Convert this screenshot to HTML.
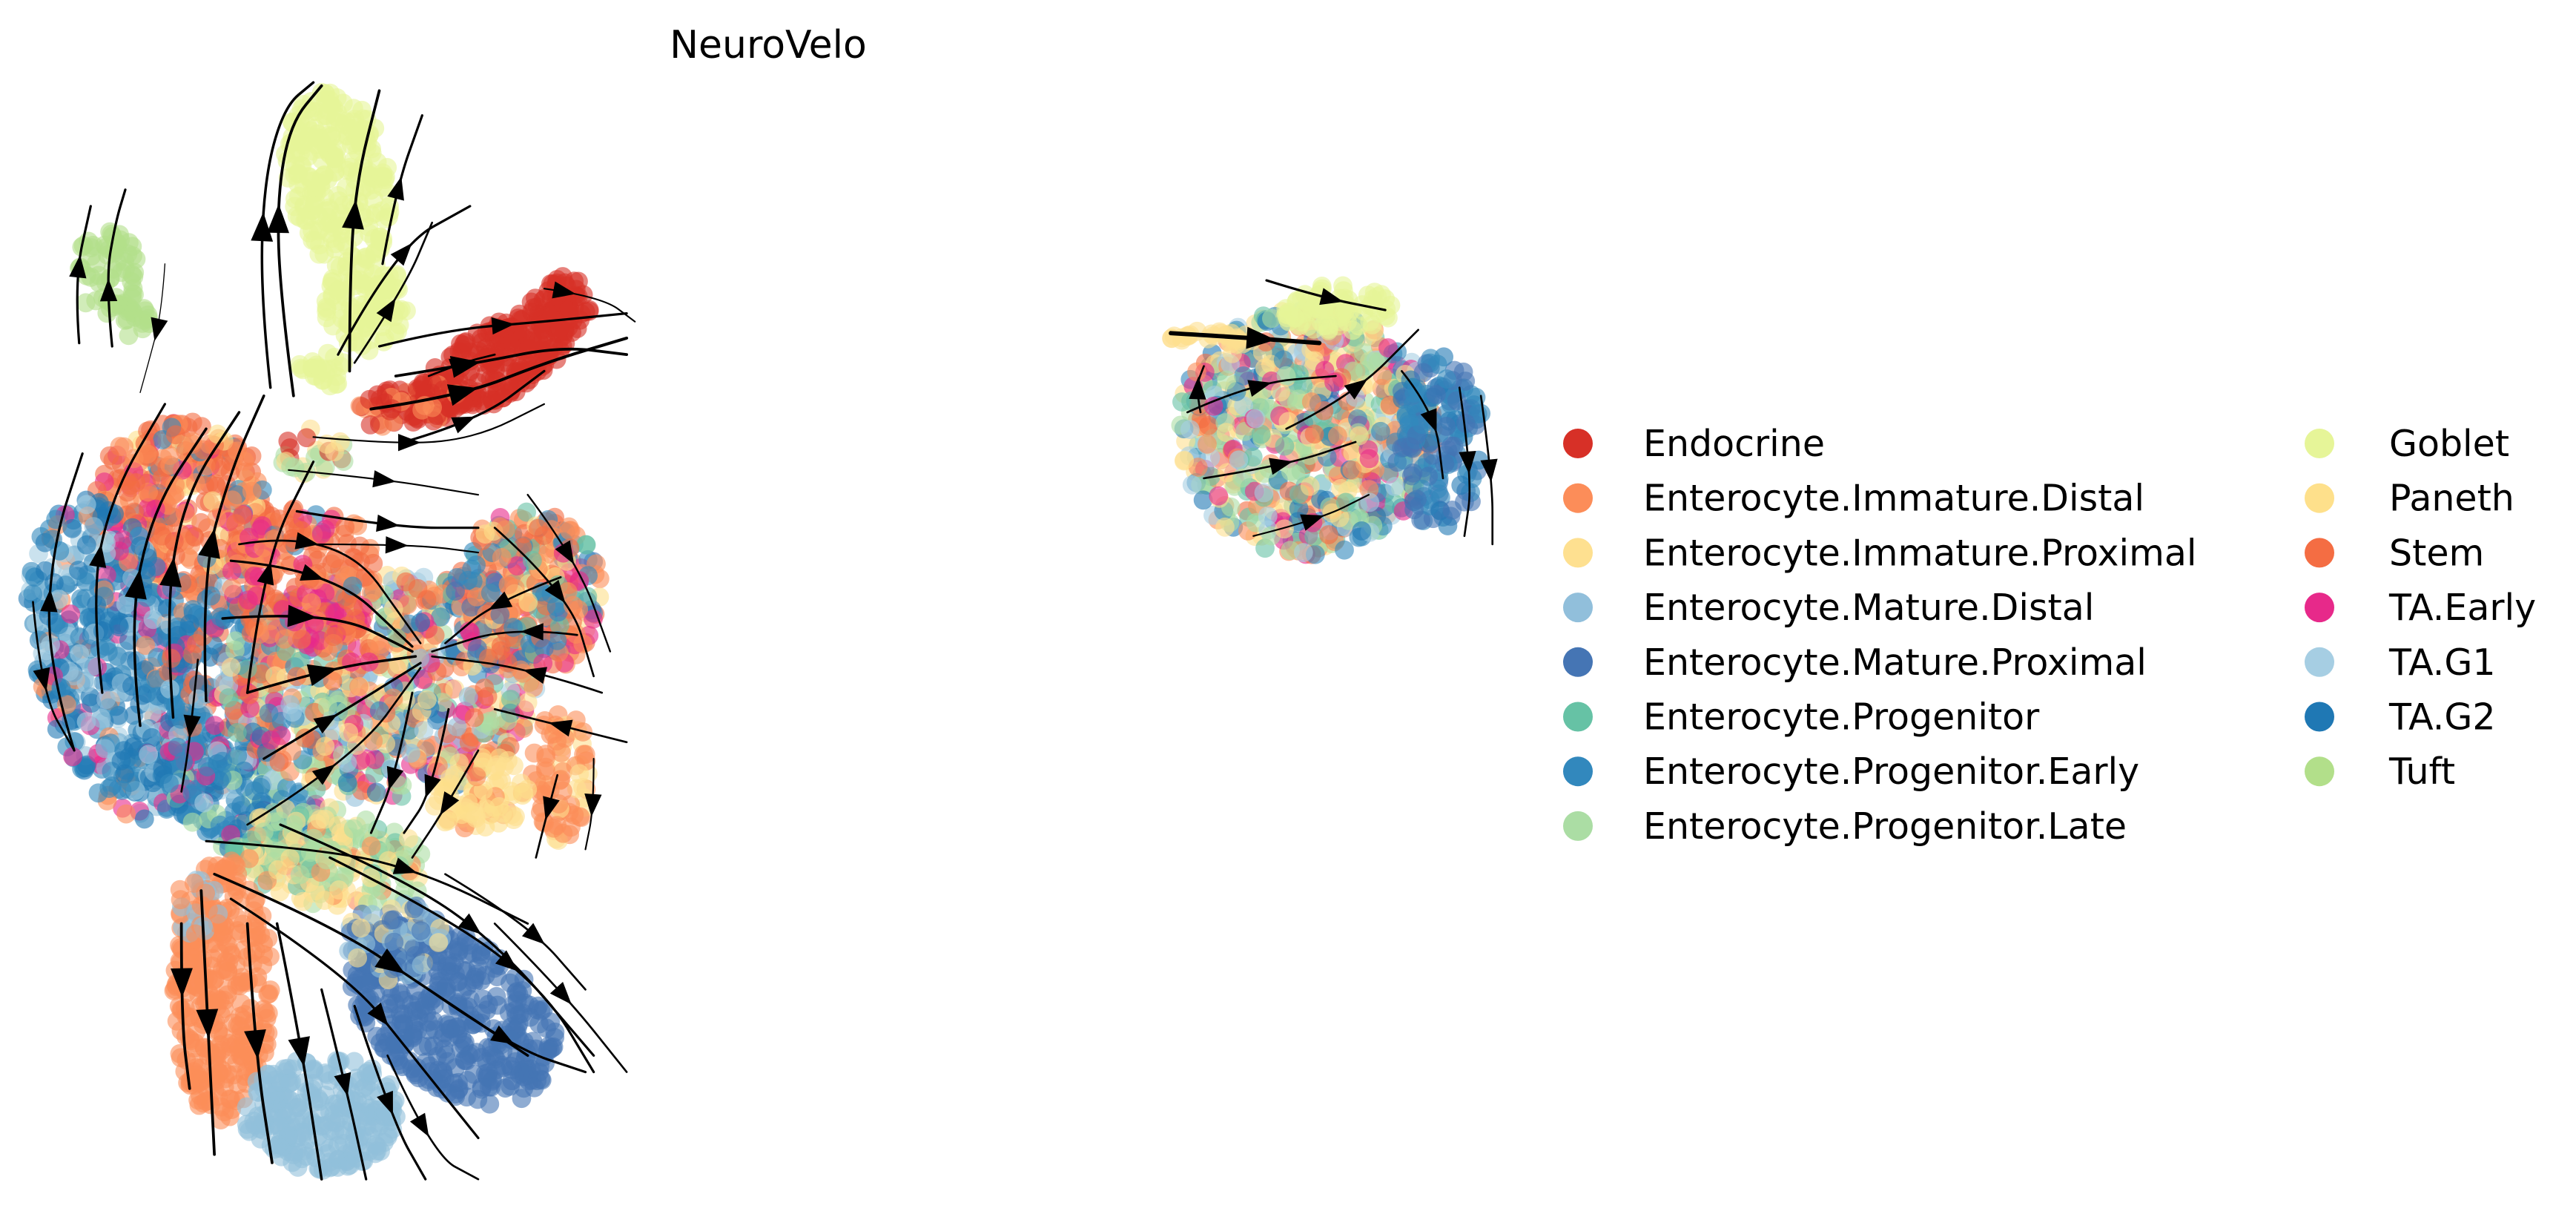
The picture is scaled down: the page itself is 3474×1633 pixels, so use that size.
<!DOCTYPE html>
<html><head><meta charset="utf-8"><style>
html,body{margin:0;padding:0;background:#fff;}
svg{display:block;}
text{font-family:"DejaVu Sans","Liberation Sans",sans-serif;fill:#000;}
</style></head><body>
<svg id="s" width="3474" height="1633" viewBox="0 0 3474 1633" xmlns="http://www.w3.org/2000/svg">
<text x="1036" y="78" font-size="52" text-anchor="middle">NeuroVelo</text>
<g id="plot" transform="scale(2.224)"><g id="dots"></g><g id="lines" fill="none" stroke="#000" stroke-linecap="round"></g><g id="heads"></g></g>
<g id="legend" font-size="49"></g>
</svg>
<script>
var C={endo:"#d73027",imd:"#fc8d59",imp:"#fee090",md:"#91bfdb",mp:"#4575b4",pro:"#66c2a5",pe:"#3288bd",pl:"#abdda4",gob:"#e6f598",pan:"#fee08b",stem:"#f46d43",tae:"#e7298a",g1:"#a6cee3",g2:"#1f78b4",tuft:"#b2df8a"};
var NS="http://www.w3.org/2000/svg";
function mk(t,a,p){var e=document.createElementNS(NS,t);for(var k in a)e.setAttribute(k,a[k]);p.appendChild(e);return e;}
var seed=12345;function rnd(){seed|=0;seed=seed+0x6D2B79F5|0;var t=Math.imul(seed^seed>>>15,1|seed);t=t+Math.imul(t^t>>>7,61|t)^t;return((t^t>>>14)>>>0)/4294967296;}
function pick(m){var s=0;for(var i=0;i<m.length;i++)s+=m[i][1];var r=rnd()*s;for(i=0;i<m.length;i++){r-=m[i][1];if(r<=0)return m[i][0];}return m[0][0];}
var dots=document.getElementById("dots");
function blob(cx,cy,rx,ry,rot,n,mix){var a=rot*Math.PI/180;for(var i=0;i<n;i++){var t=rnd()*2*Math.PI,r=Math.sqrt(rnd());var x=Math.cos(t)*r*rx,y=Math.sin(t)*r*ry;var px=cx+x*Math.cos(a)-y*Math.sin(a),py=cy+x*Math.sin(a)+y*Math.cos(a);mk("circle",{cx:px.toFixed(1),cy:py.toFixed(1),r:5.8,fill:C[pick(mix)],"fill-opacity":0.6},dots);}}
var mixC=[["stem",3],["imd",2],["tae",2],["pe",2],["g2",1],["pl",2],["pro",1],["imp",2],["pan",1],["g1",1],["md",1]];
blob(65,165,20,25,0,60,[["tuft",1]]);blob(80,190,12,14,0,20,[["tuft",1]]);
blob(205,110,32,55,-10,240,[["gob",1]]);blob(222,185,25,28,0,100,[["gob",1]]);blob(195,225,15,12,0,25,[["gob",1]]);
blob(300,220,55,22,-30,220,[["endo",1]]);blob(340,185,18,18,0,60,[["endo",1]]);blob(250,245,35,13,-10,70,[["endo",4],["imd",1]]);
blob(190,275,20,15,0,25,[["endo",1],["imp",1],["pl",1]]);
blob(110,310,55,55,0,350,[["stem",6],["imd",3],["tae",1],["pe",1],["pan",1]]);
blob(70,400,48,100,-15,500,[["g2",4],["pe",4],["g1",2],["md",1],["imd",1],["tae",1]]);
blob(135,420,35,65,0,220,[["pe",3],["g2",2],["tae",1],["stem",1],["g1",1]]);
blob(150,490,60,28,30,220,[["pe",4],["g2",2],["tae",1],["pl",1],["g1",1]]);
blob(230,415,95,70,0,700,mixC);
blob(185,350,45,45,0,200,[["stem",4],["imd",3],["tae",2],["pe",1]]);
blob(320,360,45,50,0,300,[["imd",3],["stem",2],["pe",2],["mp",1],["tae",1],["pan",1],["pro",1]]);
blob(340,470,18,40,0,70,[["imd",3],["imp",1]]);blob(290,480,30,25,0,80,[["imp",2],["pan",2],["imd",1]]);
blob(200,520,60,30,10,220,[["pl",3],["imp",2],["pro",1],["pan",1],["imd",1]]);
blob(135,600,30,80,0,300,[["imd",1]]);blob(120,550,15,18,0,30,[["imd",1],["md",1]]);
blob(195,675,48,35,0,240,[["md",1]]);
blob(275,615,70,45,35,400,[["mp",1]]);blob(240,570,30,25,0,80,[["mp",2],["imp",1],["md",1]]);
blob(792,262,78,75,0,700,[["imd",2],["imp",2],["pl",2],["pro",2],["tae",2],["g1",2],["pe",1],["g2",1],["stem",1],["pan",1]]);
blob(810,187,35,14,0,80,[["gob",1]]);blob(872,268,28,52,0,140,[["mp",2],["pe",2],["g2",1]]);blob(735,205,26,5,0,25,[["imp",1]]);
var lines=document.getElementById("lines"),heads=document.getElementById("heads");
function L(pts,t,w){w=(w||1)*1.2;var d="M"+pts[0][0]+" "+pts[0][1];for(var i=1;i<pts.length;i++){var q=pts[i];if(i<pts.length-1){var n=pts[i+1];var mx=(q[0]+n[0])/2,my=(q[1]+n[1])/2;d+=" Q"+q[0]+" "+q[1]+" "+mx+" "+my;}else d+=" L"+q[0]+" "+q[1];}
var el=mk("path",{d:d,"stroke-width":w},lines);var len=el.getTotalLength();var a=el.getPointAtLength(len*(t||0.5)),b=el.getPointAtLength(Math.min(len,len*(t||0.5)+2));var ang=Math.atan2(b.y-a.y,b.x-a.x)*180/Math.PI;var s=w>1.5?1.6:1.25;
mk("polygon",{points:"6,0 -5,-4.2 -5,4.2",transform:"translate("+a.x.toFixed(1)+","+a.y.toFixed(1)+") rotate("+ang.toFixed(1)+") scale("+s+")",fill:"#000"},heads);}
var S=[
[[[178,240],[170,180],[168,120],[176,75],[195,52]],0.55,1.4],[[[164,235],[158,180],[160,110],[172,65],[190,50]],0.5,1.3],
[[[212,225],[212,170],[216,110],[230,55]],0.55,1.4],[[[232,160],[240,115],[256,70]],0.5,1.2],[[[215,220],[245,175],[262,135]],0.4,1],[[[205,215],[240,150],[285,125]],0.6,1.2],
[[[48,208],[45,170],[55,125]],0.55,1.2],[[[68,210],[64,170],[70,135],[76,115]],0.35,1.2],[[[100,160],[98,190],[90,220],[85,238]],0.5,0.5],
[[[230,210],[270,200],[330,195],[380,190]],0.5,1.2],[[[240,228],[290,220],[340,210],[380,215]],0.3,1.4],[[[225,248],[280,240],[330,220],[380,205]],0.35,1.5],
[[[245,268],[290,255],[330,225]],0.4,1.2],[[[330,175],[365,180],[385,195]],0.2,0.8],[[[260,228],[280,220],[300,215]],0.5,1],
[[[190,265],[245,270],[290,265],[330,245]],0.4,0.8],[[[175,285],[230,290],[290,300]],0.5,0.8],[[[180,310],[240,320],[290,320]],0.5,1.2],[[[190,330],[250,330],[290,335]],0.5,0.8],
[[[45,455],[28,400],[32,330],[50,275]],0.5,1.2],[[[62,420],[55,360],[68,300],[100,245]],0.45,1.2],[[[85,440],[78,380],[92,310],[125,260]],0.45,1.3],
[[[105,435],[100,370],[112,300],[145,250]],0.45,1.3],[[[125,425],[122,350],[140,285],[160,240]],0.5,1.3],[[[150,420],[160,340],[190,280]],0.5,1.2],
[[[20,365],[25,420],[45,455]],0.5,1],[[[120,400],[115,450],[110,480]],0.5,1],
[[[140,340],[200,345],[250,392]],0.4,1.2],[[[135,375],[200,370],[250,395]],0.4,1.3],[[[150,420],[200,405],[252,398]],0.45,1.3],[[[160,460],[210,430],[255,402]],0.4,1.2],[[[150,500],[215,460],[255,405]],0.4,1],[[[145,330],[205,320],[255,390]],0.3,1],
[[[365,420],[320,405],[262,398]],0.4,1],[[[350,385],[310,380],[262,395]],0.3,1],[[[340,350],[300,365],[270,390]],0.5,1],[[[380,450],[340,440],[300,430]],0.5,1],
[[[320,300],[350,340],[370,395]],0.4,0.9],[[[300,320],[345,360],[360,410]],0.5,1],[[[338,470],[330,500],[325,520]],0.4,1],[[[360,460],[360,490],[355,515]],0.5,0.8],
[[[250,420],[240,470],[225,505]],0.6,1.1],[[[272,430],[262,480],[245,505]],0.6,1.1],[[[290,455],[270,490],[250,520]],0.5,1],
[[[125,510],[200,515],[260,530],[320,560]],0.6,1.1],[[[130,530],[200,560],[260,600],[320,640]],0.55,1.3],[[[140,545],[210,590],[250,640],[290,690]],0.55,1.2],
[[[170,500],[240,530],[300,570],[360,640]],0.55,1.2],[[[200,520],[270,555],[330,600],[360,650]],0.6,1.2],[[[260,600],[310,635],[355,650]],0.5,1.2],
[[[270,530],[320,560],[355,600]],0.6,1],[[[300,560],[340,600],[380,650]],0.5,1],
[[[110,560],[110,620],[115,660]],0.35,1.4],[[[122,540],[126,620],[130,700]],0.5,1.4],[[[150,560],[155,640],[165,705]],0.5,1.4],
[[[168,560],[182,630],[195,715]],0.5,1.3],[[[195,600],[210,660],[222,715]],0.5,1.2],[[[215,610],[238,680],[258,715]],0.55,1.2],[[[235,640],[262,700],[290,715]],0.5,1],
[[[710,202],[760,205],[800,208]],0.6,2.2],[[[768,170],[800,180],[840,188]],0.55,1.2],[[[720,250],[760,232],[810,228]],0.5,1],[[[730,290],[780,282],[822,268]],0.5,1],
[[[898,240],[905,290],[905,330]],0.5,1],[[[885,235],[893,290],[888,325]],0.5,1],[[[760,325],[800,315],[830,300]],0.5,0.8],[[[780,260],[820,240],[860,200]],0.5,1],
[[[728,250],[725,235],[730,222]],0.5,1],[[[850,225],[870,250],[875,290]],0.5,1]
];
S.forEach(function(s){L(s[0],s[1],s[2]);});
var lg=document.getElementById("legend");
var L1=[["endo","Endocrine"],["imd","Enterocyte.Immature.Distal"],["imp","Enterocyte.Immature.Proximal"],["md","Enterocyte.Mature.Distal"],["mp","Enterocyte.Mature.Proximal"],["pro","Enterocyte.Progenitor"],["pe","Enterocyte.Progenitor.Early"],["pl","Enterocyte.Progenitor.Late"]];
var L2=[["gob","Goblet"],["pan","Paneth"],["stem","Stem"],["tae","TA.Early"],["g1","TA.G1"],["g2","TA.G2"],["tuft","Tuft"]];
L1.forEach(function(e,i){var y=598+i*73.7;mk("circle",{cx:2128,cy:y,r:20,fill:C[e[0]]},lg);var t=mk("text",{x:2216,y:y+17},lg);t.textContent=e[1];});
L2.forEach(function(e,i){var y=598+i*73.7;mk("circle",{cx:3128,cy:y,r:20,fill:C[e[0]]},lg);var t=mk("text",{x:3222,y:y+17},lg);t.textContent=e[1];});
</script>
</body></html>
